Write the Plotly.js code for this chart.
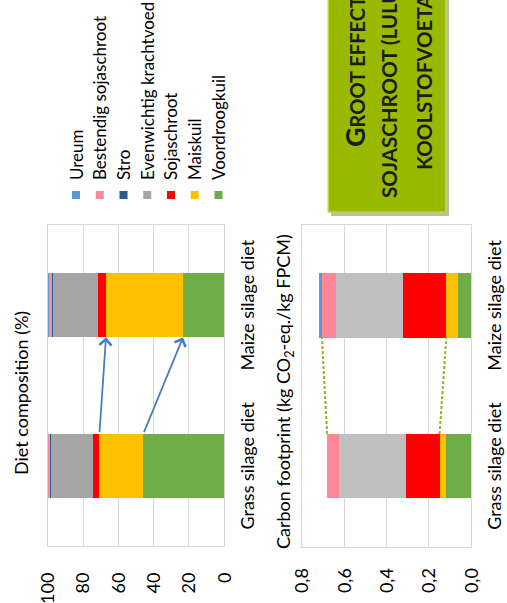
<!DOCTYPE html>
<html>
<head>
<meta charset="utf-8">
<script src="https://cdn.plot.ly/plotly-3.0.1.min.js"></script>
<style>
  html, body { margin: 0; padding: 0; width: 507px; height: 603px; overflow: hidden; background: #ffffff; }
  /* The slide is laid out landscape and turned a quarter turn counter-clockwise */
  #slide { position: absolute; left: 0; top: 0; width: 603px; height: 507px;
           transform-origin: 0 0; transform: translate(0, 603px) rotate(-90deg); overflow: hidden; }
</style>
</head>
<body>
<div id="slide"></div>
<script>
// ---- data ----
const categories = ['Grass silage diet', 'Maize silage diet'];

// series in stacking order, bottom to top
const seriesNames = ['Voordroogkuil', 'Maiskuil', 'Sojaschroot', 'Evenwichtig krachtvoed',
                     'Stro', 'Bestendig sojaschroot', 'Ureum'];

// diet composition (%)
const dietVoordroogkuil = [45.8, 23.4];
const dietMaiskuil      = [24.9, 43.6];
const dietSojaschroot   = [3.8, 4.7];
const dietEvenwichtig   = [23.6, 25.1];
const dietStro          = [0.6, 0.9];
const dietBestendig     = [1.3, 1.4];
const dietUreum         = [0.0, 0.8];

// carbon footprint (kg CO2-eq./kg FPCM)
const co2Voordroogkuil = [0.120, 0.063];
const co2Maiskuil      = [0.030, 0.055];
const co2Sojaschroot   = [0.157, 0.207];
const co2Evenwichtig   = [0.316, 0.316];
const co2Stro          = [0.000, 0.000];
const co2Bestendig     = [0.058, 0.065];
const co2Ureum         = [0.000, 0.016];

const dietTicks = [0, 20, 40, 60, 80, 100];
const co2Ticks  = [0, 0.2, 0.4, 0.6, 0.8];

// ---- styling ----
const dietColors = ['#70ad47', '#ffc000', '#ff0000', '#a5a5a5', '#255e91', '#ff8799', '#5b9bd5'];
const co2Colors  = ['#70ad47', '#ffc000', '#ff0000', '#bfbfbf', '#255e91', '#ff8799', '#5b9bd5'];

const W = 603, H = 507;
const px = X => X / W;          // slide pixel -> paper x
const py = Y => 1 - Y / H;      // slide pixel -> paper y
const BAR_W = 0.4;
const FONT = 'Lato, "Open Sans", sans-serif';
const FS = 18;

const dietSeries = [dietVoordroogkuil, dietMaiskuil, dietSojaschroot, dietEvenwichtig, dietStro, dietBestendig, dietUreum];
const co2Series  = [co2Voordroogkuil, co2Maiskuil, co2Sojaschroot, co2Evenwichtig, co2Stro, co2Bestendig, co2Ureum];

const traces = [];
dietSeries.forEach((vals, i) => traces.push({
  type: 'bar', name: seriesNames[i], x: categories, y: vals, xaxis: 'x', yaxis: 'y',
  marker: { color: dietColors[i], line: { width: 0 } }, showlegend: false, hoverinfo: 'none'
}));
co2Series.forEach((vals, i) => traces.push({
  type: 'bar', name: seriesNames[i], x: categories, y: vals, xaxis: 'x2', yaxis: 'y2',
  marker: { color: co2Colors[i], line: { width: 0 } }, showlegend: false, hoverinfo: 'none'
}));

// cumulative stack height after series k, per category
const cumTop = (series, k, c) => series.slice(0, k + 1).reduce((s, v) => s + v[c], 0);

const frame = { showline: true, mirror: true, linecolor: '#d9d9d9', linewidth: 1, fixedrange: true };

const layout = {
  width: W, height: H, margin: { l: 0, r: 0, t: 0, b: 0 },
  paper_bgcolor: '#ffffff', plot_bgcolor: '#ffffff',
  barmode: 'stack', bargap: 1 - BAR_W, showlegend: false, separators: ',.',
  font: { family: FONT, size: FS, color: '#000000' },
  xaxis: Object.assign({}, frame, { domain: [px(57), px(378)], anchor: 'y', type: 'category',
    showgrid: false, ticks: 'outside', ticklen: 7, tickcolor: 'rgba(0,0,0,0)' }),
  yaxis: Object.assign({}, frame, { domain: [py(224.3), py(47.7)], anchor: 'x', range: [0, 100],
    tickvals: dietTicks, gridcolor: '#d9d9d9', zeroline: false,
    ticks: 'outside', ticklen: 22, tickcolor: 'rgba(0,0,0,0)' }),
  xaxis2: Object.assign({}, frame, { domain: [px(56.5), px(378)], anchor: 'y2', type: 'category',
    showgrid: false, ticks: 'outside', ticklen: 7, tickcolor: 'rgba(0,0,0,0)' }),
  yaxis2: Object.assign({}, frame, { domain: [py(471.3), py(302)], anchor: 'x2', range: [0, 0.8],
    tickvals: co2Ticks, tickformat: '.1f', gridcolor: '#d9d9d9', zeroline: false,
    ticks: 'outside', ticklen: 17, tickcolor: 'rgba(0,0,0,0)' }),
  shapes: [],
  annotations: []
};

// chart titles
layout.annotations.push({ xref: 'paper', yref: 'paper', x: px(210), y: py(21), xanchor: 'center', yanchor: 'middle',
  text: 'Diet composition (%)', showarrow: false, font: { size: FS } });
layout.annotations.push({ xref: 'paper', yref: 'paper', x: px(211), y: py(284), xanchor: 'center', yanchor: 'middle',
  text: 'Carbon footprint (kg CO<sub>2</sub>-eq./kg FPCM)', showarrow: false, font: { size: FS } });

// arrows: shift from grass silage to maize silage in the diet
[1, 0].forEach(k => layout.annotations.push({
  xref: 'x', yref: 'y', axref: 'x', ayref: 'y',
  x: 1 - BAR_W / 2, y: cumTop(dietSeries, k, 1),
  ax: BAR_W / 2, ay: cumTop(dietSeries, k, 0),
  text: '', showarrow: true, arrowhead: 4, arrowsize: 1.3, arrowwidth: 1.8,
  arrowcolor: '#4a7ebb', standoff: 0, startstandoff: 0
}));

// dashed connectors between the carbon footprint bars
[5, 1].forEach(k => layout.shapes.push({
  type: 'line', xref: 'x2', yref: 'y2',
  x0: BAR_W / 2, y0: cumTop(co2Series, k, 0),
  x1: 1 - BAR_W / 2, y1: cumTop(co2Series, k, 1),
  line: { color: '#92b31e', width: 2, dash: '3px,2px' }
}));

// legend (top entry = top of the stack)
const legendOrder = seriesNames.map((n, i) => i).reverse();
legendOrder.forEach((si, row) => {
  const yc = 76 + row * 23.75;
  layout.shapes.push({ type: 'rect', xref: 'paper', yref: 'paper',
    x0: px(404), x1: px(412), y0: py(yc + 4), y1: py(yc - 4),
    fillcolor: dietColors[si], line: { width: 0 } });
  layout.annotations.push({ xref: 'paper', yref: 'paper', x: px(421), y: py(yc),
    xanchor: 'left', yanchor: 'middle', text: seriesNames[si], showarrow: false,
    font: { size: 17 } });
});

// green call-out box
layout.shapes.push({ type: 'rect', xref: 'paper', yref: 'paper',
  x0: px(387), x1: px(760), y0: py(449), y1: py(331),
  fillcolor: 'rgba(60,70,0,0.35)', line: { width: 0 } });
layout.shapes.push({ type: 'rect', xref: 'paper', yref: 'paper',
  x0: px(391), x1: px(760), y0: py(445.7), y1: py(328.3),
  fillcolor: '#99b900', line: { color: '#b9d93a', width: 1.5 } });

const boxFont = { family: FONT, size: 20.5, color: '#1c1c1c', weight: 'bold' };
layout.annotations.push({ xref: 'paper', yref: 'paper', x: px(454), y: py(354), xanchor: 'left', yanchor: 'middle',
  text: '<span style="font-size:27px">G</span><span style="font-size:20px">ROOT EFFECT VAN</span>',
  showarrow: false, font: boxFont });
layout.annotations.push({ xref: 'paper', yref: 'paper', x: px(403), y: py(389), xanchor: 'left', yanchor: 'middle',
  text: 'SOJASCHROOT (LULUC) OP', showarrow: false, font: boxFont });
layout.annotations.push({ xref: 'paper', yref: 'paper', x: px(431), y: py(424), xanchor: 'left', yanchor: 'middle',
  text: 'KOOLSTOFVOETAFDRUK', showarrow: false, font: boxFont });

Plotly.newPlot('slide', traces, layout, { staticPlot: true, displayModeBar: false });
</script>
</body>
</html>
